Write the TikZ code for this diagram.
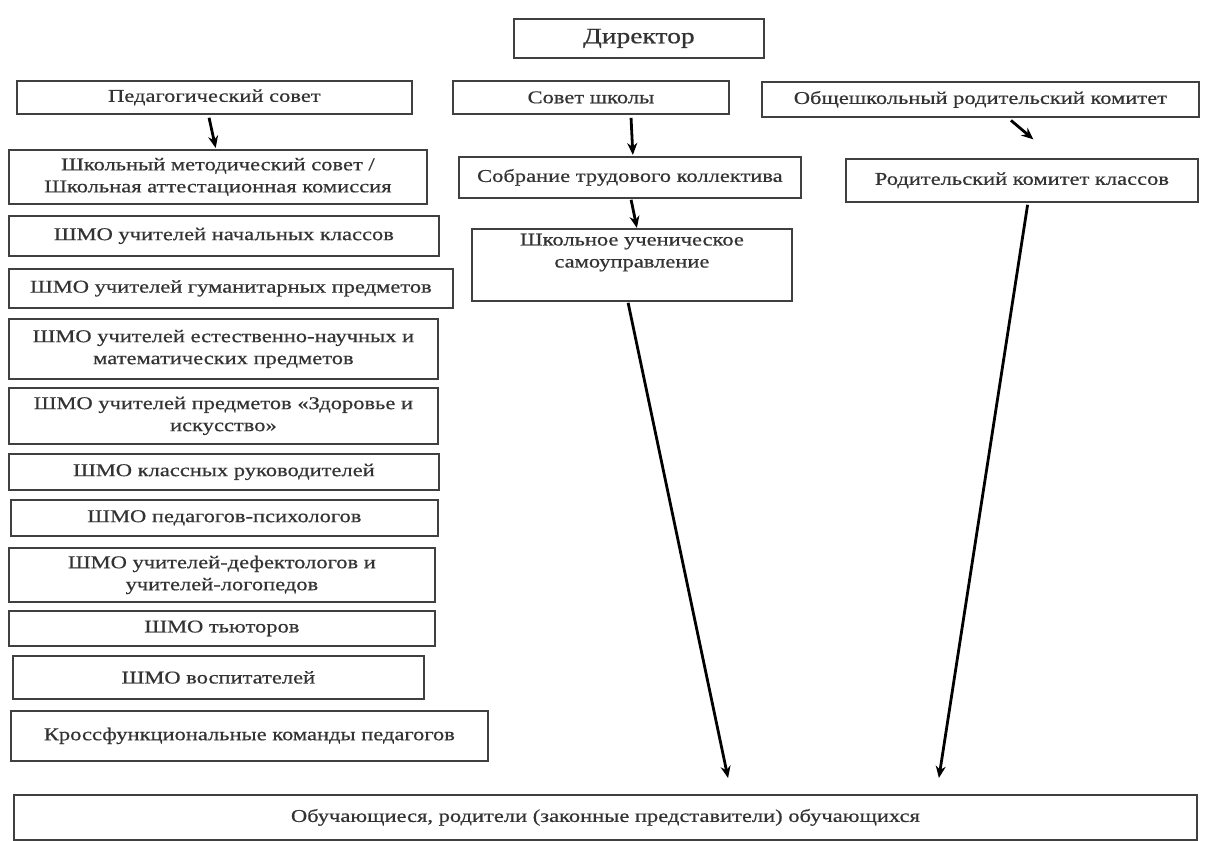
\documentclass[tikz,border=0pt]{standalone}
\usepackage{fontspec}
\setmainfont{Liberation Serif}[FakeStretch=1.25,FakeBold=0.6]
\usetikzlibrary{arrows.meta}
\tikzset{
  box/.style={draw=black!75, line width=1.8pt, anchor=north west, align=center,
    inner sep=2pt, text=black!80, font=\fontsize{18}{22}\selectfont},
  arr/.style={draw=black, line width=2.8pt, -{Stealth[length=12pt,width=10pt]}}
}
\newcommand\bx[6]{\node[box, minimum width={#4pt-#2pt}, minimum height={#5pt-#3pt}] (#1) at (#2,#3) {#6};}
\begin{document}
\begin{tikzpicture}[x=1pt,y=-1pt]
\useasboundingbox (0,0) rectangle (1206,840);
\node[box, minimum width=250pt, minimum height=39pt, font=\fontsize{22}{24}\selectfont] (dir) at (513,18) {Директор};
\bx{pedsov}{16}{80}{411}{113}{Педагогический совет}
\bx{sovet}{452}{80}{728}{113}{Совет школы}
\bx{obsh}{761}{81}{1198}{116}{Общешкольный родительский комитет}
\bx{shkmet}{8}{149}{426}{203}{Школьный методический совет /\\Школьная аттестационная комиссия}
\bx{sobr}{458}{156}{800}{197}{Собрание трудового коллектива}
\bx{rodkom}{845}{158}{1197}{201}{Родительский комитет классов}
\bx{shkuch}{471}{228}{791}{300}{Школьное ученическое\\самоуправление\\\strut}
\bx{nach}{8}{215}{438}{255}{ШМО учителей начальных классов}
\bx{gum}{8}{268}{452}{307}{ШМО учителей гуманитарных предметов}
\bx{estn}{8}{318}{437}{378}{ШМО учителей естественно-научных и\\математических предметов}
\bx{zdor}{8}{387}{437}{443}{ШМО учителей предметов «Здоровье и\\искусство»}
\bx{klass}{8}{453}{438}{489}{ШМО классных руководителей}
\bx{psih}{10}{499}{437}{535}{ШМО педагогов-психологов}
\bx{defek}{8}{547}{434}{601}{ШМО учителей-дефектологов и\\учителей-логопедов}
\bx{tut}{8}{610}{434}{645}{ШМО тьюторов}
\bx{vosp}{12}{655}{423}{698}{ШМО воспитателей}
\bx{kross}{10}{710}{487}{760}{Кроссфункциональные команды педагогов}
\bx{obuch}{13}{794}{1196}{839}{Обучающиеся, родители (законные представители) обучающихся}
\draw[arr, shorten <=3pt, shorten >=1pt] ([xshift=-6pt]pedsov.south) -- ([xshift=-2pt]shkmet.north);
\draw[arr, shorten <=3pt, shorten >=1pt] ([xshift=40pt]sovet.south) -- ([xshift=3pt]sobr.north);
\draw[arr, shorten <=1pt, shorten >=0pt] ([xshift=1pt]sobr.south) -- ([xshift=5pt]shkuch.north);
\draw[arr, shorten <=4pt, shorten >=28.8pt] ([xshift=27.5pt]obsh.south) -- ([xshift=33.5pt]rodkom.north);
\draw[arr, shorten <=1pt, shorten >=16.3pt] ([xshift=-4pt]shkuch.south) -- ([xshift=126pt]obuch.north);
\draw[arr, shorten <=2pt, shorten >=16.2pt] ([xshift=6pt]rodkom.south) -- ([xshift=331pt]obuch.north);
\end{tikzpicture}
\end{document}
